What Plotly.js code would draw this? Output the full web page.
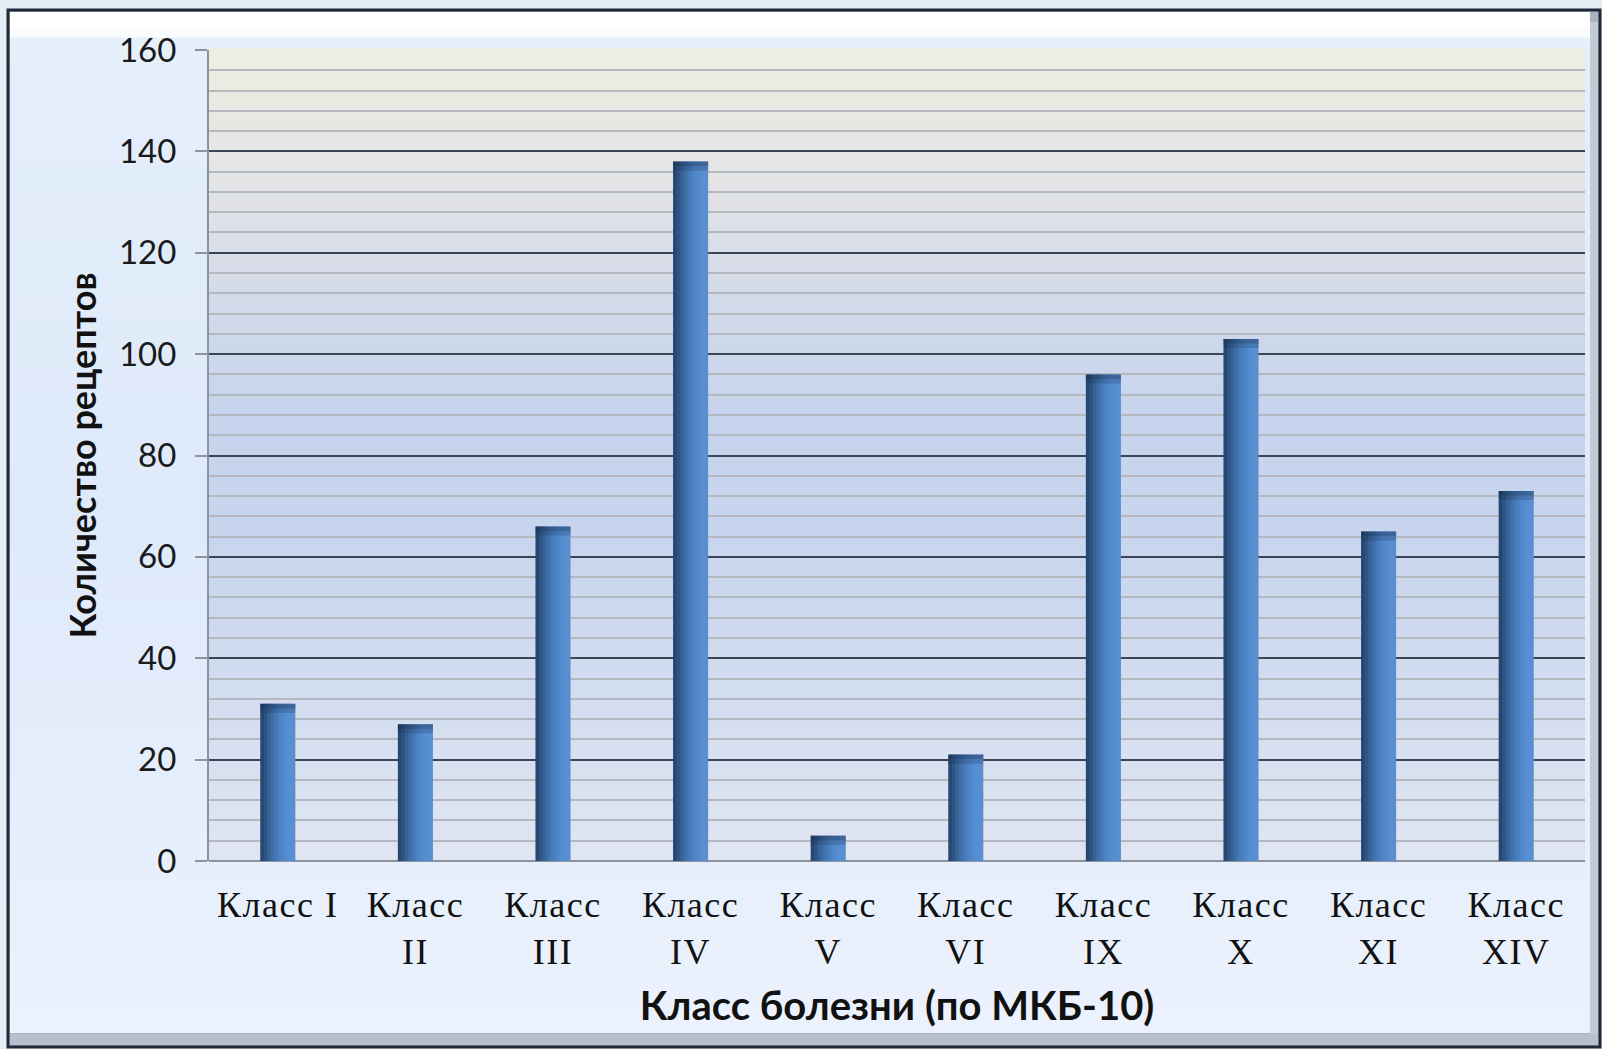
<!DOCTYPE html>
<html>
<head>
<meta charset="utf-8">
<script src="https://cdn.plot.ly/plotly-3.0.1.min.js"></script>
<style>html,body{margin:0;padding:0;background:#E6ECF4;}#chart{width:1602px;height:1049px;}
.xtick text{letter-spacing:1.5px;}</style>
</head>
<body>
<div id="chart"></div>
<script>
// ---- data ----
const categories = ["Класс I", "Класс<br>II", "Класс<br>III", "Класс<br>IV", "Класс<br>V", "Класс<br>VI", "Класс<br>IX", "Класс<br>X", "Класс<br>XI", "Класс<br>XIV"];
const values = [31, 27, 66, 138, 5, 21, 96, 103, 65, 73];
const yTickValues = [0, 20, 40, 60, 80, 100, 120, 140, 160];
const yTickLabels = ["0", "20", "40", "60", "80", "100", "120", "140", "160"];
const xTitle = "Класс болезни (по МКБ-10)";
const yTitle = "Количество рецептов";

// ---- layout constants ----
const FW = 1602, FH = 1049;
const L = 209, R = 17, T = 50, B = 188;
const PW = FW - L - R, PH = FH - T - B;
const px = v => (v - L) / PW;
const py = v => 1 - (v - T) / PH;

function hexToRgb(h){h=h.replace('#','');return [parseInt(h.substr(0,2),16),parseInt(h.substr(2,2),16),parseInt(h.substr(4,2),16)];}
function lerpColor(stops, t){
  for(let i=0;i<stops.length-1;i++){
    const a=stops[i], b=stops[i+1];
    if(t>=a[0] && t<=b[0]){
      const f=(t-a[0])/(b[0]-a[0]||1);
      const ca=hexToRgb(a[1]), cb=hexToRgb(b[1]);
      return 'rgb('+ca.map((c,k)=>Math.round(c+(cb[k]-c)*f)).join(',')+')';
    }
  }
  return stops[stops.length-1][1];
}

const shapes = [];
// outer frame
shapes.push({type:'rect', xref:'paper', yref:'paper', layer:'below',
  x0:px(8), x1:px(1600), y0:py(1047), y1:py(10),
  fillcolor:'#A9B2BE', line:{color:'#1F2A38', width:3}});
// inner panel gradient (vertical)
const panelStops=[[0,'#FFFFFF'],[0.02,'#F7FAFE'],[0.04,'#E4EEFB'],[0.5,'#DEE9FA'],[1,'#EBF2FD']];
const nP=40;
for(let i=0;i<nP;i++){
  const y0=12+(1032-12)*i/nP, y1=12+(1032-12)*(i+1)/nP+1;
  shapes.push({type:'rect', xref:'paper', yref:'paper', layer:'below',
    x0:px(10), x1:px(1590), y0:py(y1), y1:py(y0),
    fillcolor:lerpColor(panelStops,(i+0.5)/nP), line:{width:0}});
}
// top white strip
shapes.push({type:'rect', xref:'paper', yref:'paper', layer:'below',
  x0:px(10), x1:px(1590), y0:py(28), y1:py(12), fillcolor:'#FFFFFF', line:{width:0}});
// right bevel
shapes.push({type:'rect', xref:'paper', yref:'paper', layer:'below',
  x0:px(1590), x1:px(1598), y0:py(1036), y1:py(22), fillcolor:'#C2CAD4', line:{width:0}});
// bottom bevel
shapes.push({type:'rect', xref:'paper', yref:'paper', layer:'below',
  x0:px(10), x1:px(1598), y0:py(1045), y1:py(1034), fillcolor:'#B7C0CC', line:{width:0}});

// plot area gradient
const plotStops=[[0,'#DFE5F2'],[0.2,'#D3DDF0'],[0.4,'#C8D5EE'],[0.55,'#C7D4EE'],[0.7,'#D3DAE9'],[0.82,'#E1E3E6'],[1,'#EEEDE2']];
const nB=60;
for(let i=0;i<nB;i++){
  shapes.push({type:'rect', xref:'x domain', yref:'y domain', layer:'below',
    x0:0, x1:1, y0:i/nB, y1:(i+1)/nB+0.002,
    fillcolor:lerpColor(plotStops,(i+0.5)/nB), line:{width:0}});
}

// ---- bars (cylinder-like shading via slices) ----
const BW = 0.255;
const sliceColors = ['#274670','#2E5483','#366297','#3E6EA8','#4578B6','#4B80C1','#5087CA','#548CD0','#578FD3','#5A8ECF'];
const traces = [];
const N = sliceColors.length;
for(let i=0;i<N;i++){
  const w = BW/N;
  traces.push({type:'bar', x:categories, y:values,
    offset:-BW/2 + i*w, width: (i<N-1? w*1.25 : w),
    marker:{color:sliceColors[i], line:{width:0}},
    hoverinfo:'skip', showlegend:false});
}
// darker top cap
traces.push({type:'bar', x:categories, y:values.map(()=>1.8), base:values.map(v=>v-1.8),
  offset:-BW/2, width:BW, marker:{color:'rgba(25,45,75,0.22)', line:{width:0}}, hoverinfo:'skip', showlegend:false});
traces.push({type:'bar', x:categories, y:values.map(()=>0.9), base:values.map(v=>v-0.9),
  offset:-BW/2, width:BW, marker:{color:'rgba(25,45,75,0.25)', line:{width:0}}, hoverinfo:'skip', showlegend:false});

const layout = {
  width:FW, height:FH,
  margin:{l:L, r:R, t:T, b:B, pad:0},
  paper_bgcolor:'#E6ECF4',
  plot_bgcolor:'rgba(0,0,0,0)',
  barmode:'overlay',
  shapes:shapes,
  xaxis:{
    type:'category',
    showgrid:false, zeroline:false,
    showline:false,
    ticks:'', 
    tickfont:{family:'"Liberation Serif", "Times New Roman", serif', size:36, color:'#111111'},
    ticklabelstandoff:19,
    title:{text:xTitle, font:{family:'Lato, "Open Sans", sans-serif', size:40, color:'#111111', weight:'bold'}, standoff:21},
    fixedrange:true
  },
  yaxis:{
    range:[0,160],
    tickvals:yTickValues, ticktext:yTickLabels,
    showgrid:true, gridcolor:'#3A4656', gridwidth:2,
    minor:{dtick:4, showgrid:true, gridcolor:'#B4B9C0', gridwidth:2, ticks:''},
    zeroline:true, zerolinecolor:'#8C939C', zerolinewidth:2,
    showline:true, linecolor:'#8C939C', linewidth:2,
    ticks:'outside', ticklen:12, tickcolor:'#8C939C', tickwidth:2,
    tickfont:{family:'Lato, "Open Sans", sans-serif', size:33, color:'#1A1A1A'},
    ticklabelstandoff:12,
    title:{text:yTitle, font:{family:'Lato, "Open Sans", sans-serif', size:36, color:'#111111', weight:'bold'}, standoff:11},
    fixedrange:true
  },
  font:{family:'Lato, "Open Sans", sans-serif'}
};

Plotly.newPlot('chart', traces, layout, {displayModeBar:false, staticPlot:true});
</script>
</body>
</html>
